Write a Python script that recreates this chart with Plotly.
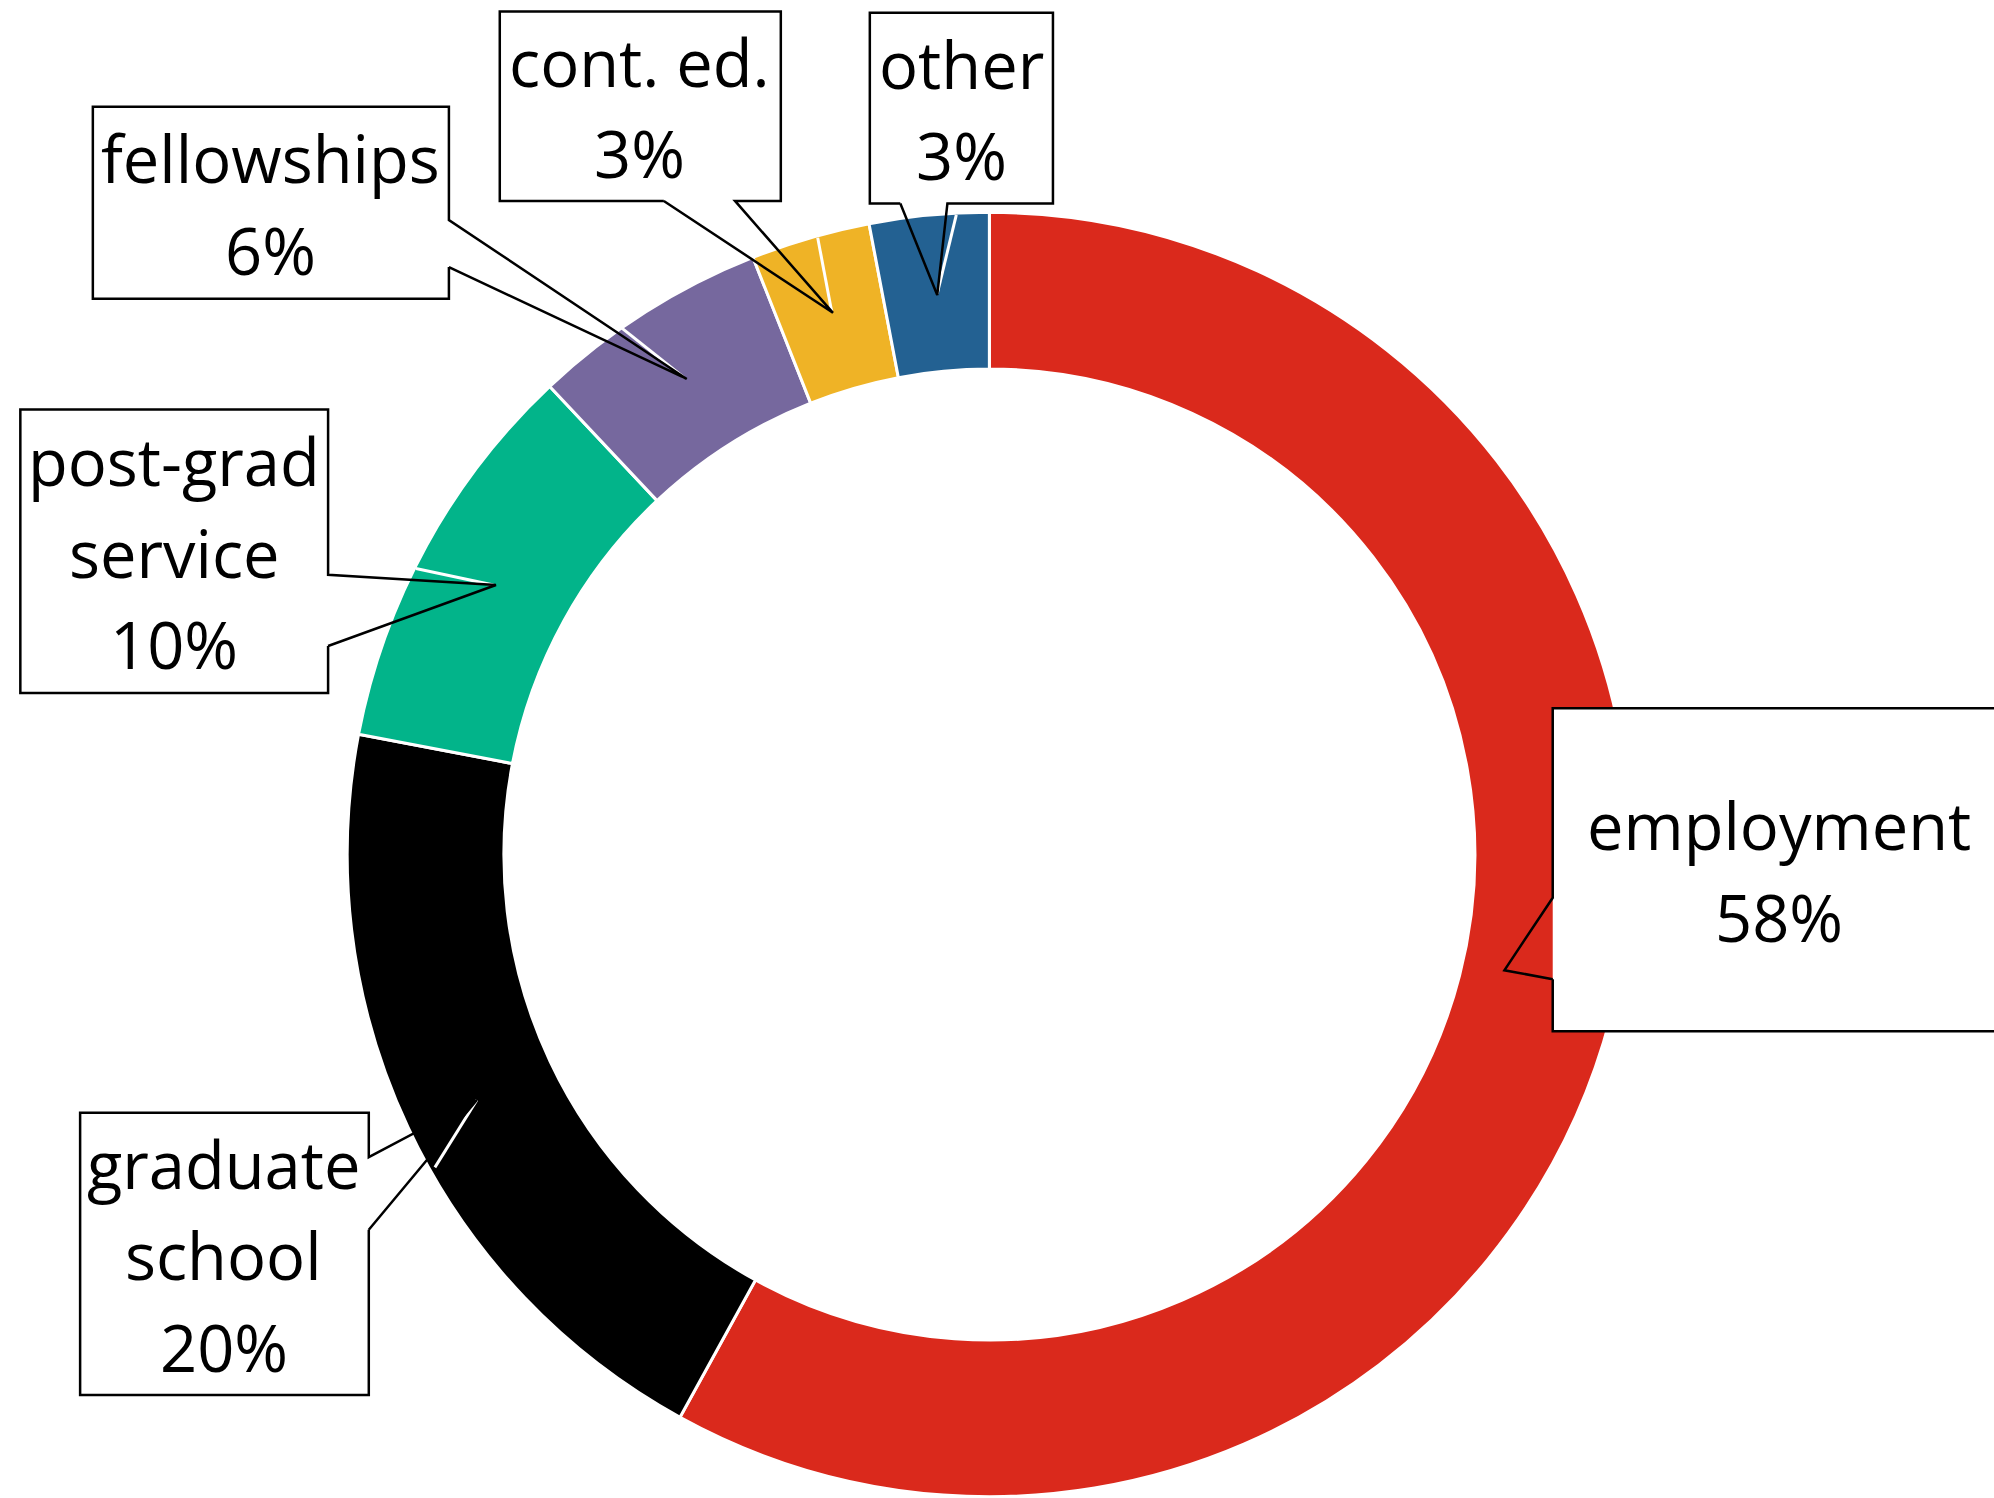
import plotly.graph_objects as go

# ---- data ----
categories = ["employment", "graduate school", "post-grad service", "fellowships", "cont. ed.", "other"]
percent_values = [58, 20, 10, 6, 3, 3]
label_lines = [["employment"], ["graduate", "school"], ["post-grad", "service"], ["fellowships"], ["cont. ed."], ["other"]]
slice_colors = ["#DA291C", "#000000", "#02B48A", "#76689E", "#EFB326", "#236192"]

# ---- layout helpers (reference pixel grid 1568 x 1178) ----
W0, H0 = 1568.0, 1178.0
def fx(x):
    return x / W0
def fy(y):
    return 1 - y / H0

# callout geometry: box (x0, y0, x1, y1), outline path points, text center x, white leader
callouts = [
    dict(box=(1221, 557, 1600, 811),
         path=[(1221, 770), (1221, 811), (1600, 811), (1600, 557), (1221, 557), (1221, 706), (1183, 763), (1221, 770)],
         tx=1399, white=None),
    dict(box=(63, 875, 290, 1097),
         path=[(290, 967), (290, 1097), (63, 1097), (63, 875), (290, 875), (290, 910), (375, 865), (290, 967)],
         tx=176, white=((375, 865), (342, 918))),
    dict(box=(16, 322, 258, 545),
         path=[(258, 508), (258, 545), (16, 545), (16, 322), (258, 322), (258, 452), (390, 460), (258, 508)],
         tx=137, white=((388, 460), (327, 447))),
    dict(box=(73, 84, 353, 235),
         path=[(353, 210), (353, 235), (73, 235), (73, 84), (353, 84), (353, 173), (540, 298), (353, 210)],
         tx=213, white=((538, 297), (489, 258))),
    dict(box=(393, 9, 614, 158),
         path=[(522, 158), (393, 158), (393, 9), (614, 9), (614, 158), (578, 158), (655, 246), (522, 158)],
         tx=503, white=((654, 245), (643, 187))),
    dict(box=(684, 10, 828, 160),
         path=[(708, 160), (684, 160), (684, 10), (828, 10), (828, 160), (745, 160), (737, 232), (708, 160)],
         tx=756, white=((737, 231), (752, 169))),
]

LINE_PITCH = 72
FONT = "Open Sans"
FSIZE = 65

fig = go.Figure()
fig.add_trace(go.Pie(
    labels=categories,
    values=percent_values,
    sort=False,
    direction="clockwise",
    rotation=0,
    hole=0.756,
    marker=dict(colors=slice_colors, line=dict(color="white", width=3)),
    textinfo="none",
    hoverinfo="label+percent",
    showlegend=False,
    domain=dict(x=[fx(778 - 505), fx(778 + 505)], y=[fy(672 + 505), fy(672 - 505)]),
))

shapes = []
annotations = []
for i, c in enumerate(callouts):
    x0, y0, x1, y1 = c["box"]
    if c["white"] is not None:
        (ax, ay), (bx, by) = c["white"]
        shapes.append(dict(type="line", xref="paper", yref="paper",
                           x0=fx(ax), y0=fy(ay), x1=fx(bx), y1=fy(by),
                           line=dict(color="white", width=3)))
    shapes.append(dict(type="rect", xref="paper", yref="paper",
                       x0=fx(x0), y0=fy(y1), x1=fx(x1), y1=fy(y0),
                       fillcolor="white", line=dict(width=0)))
    pts = c["path"]
    d = "M " + " L ".join(f"{fx(px):.5f},{fy(py):.5f}" for px, py in pts)
    shapes.append(dict(type="path", xref="paper", yref="paper", path=d,
                       line=dict(color="black", width=2.5)))
    lines = label_lines[i] + [f"{percent_values[i]}%"]
    n = len(lines)
    cy = (y0 + y1) / 2 + 1
    for k, t in enumerate(lines):
        yy = cy + (k - (n - 1) / 2) * LINE_PITCH
        annotations.append(dict(text=t, x=fx(c["tx"]), y=fy(yy), xref="paper", yref="paper",
                                xanchor="center", yanchor="middle", showarrow=False,
                                font=dict(family=FONT, size=FSIZE, color="black")))

fig.update_layout(
    width=1994, height=1498, autosize=False,
    margin=dict(l=0, r=0, t=0, b=0),
    paper_bgcolor="white", plot_bgcolor="white",
    shapes=shapes, annotations=annotations,
)

fig.write_html("out.html",
               config={"displayModeBar": False},
               post_script="document.body.style.margin='0';document.body.style.overflow='hidden';")
